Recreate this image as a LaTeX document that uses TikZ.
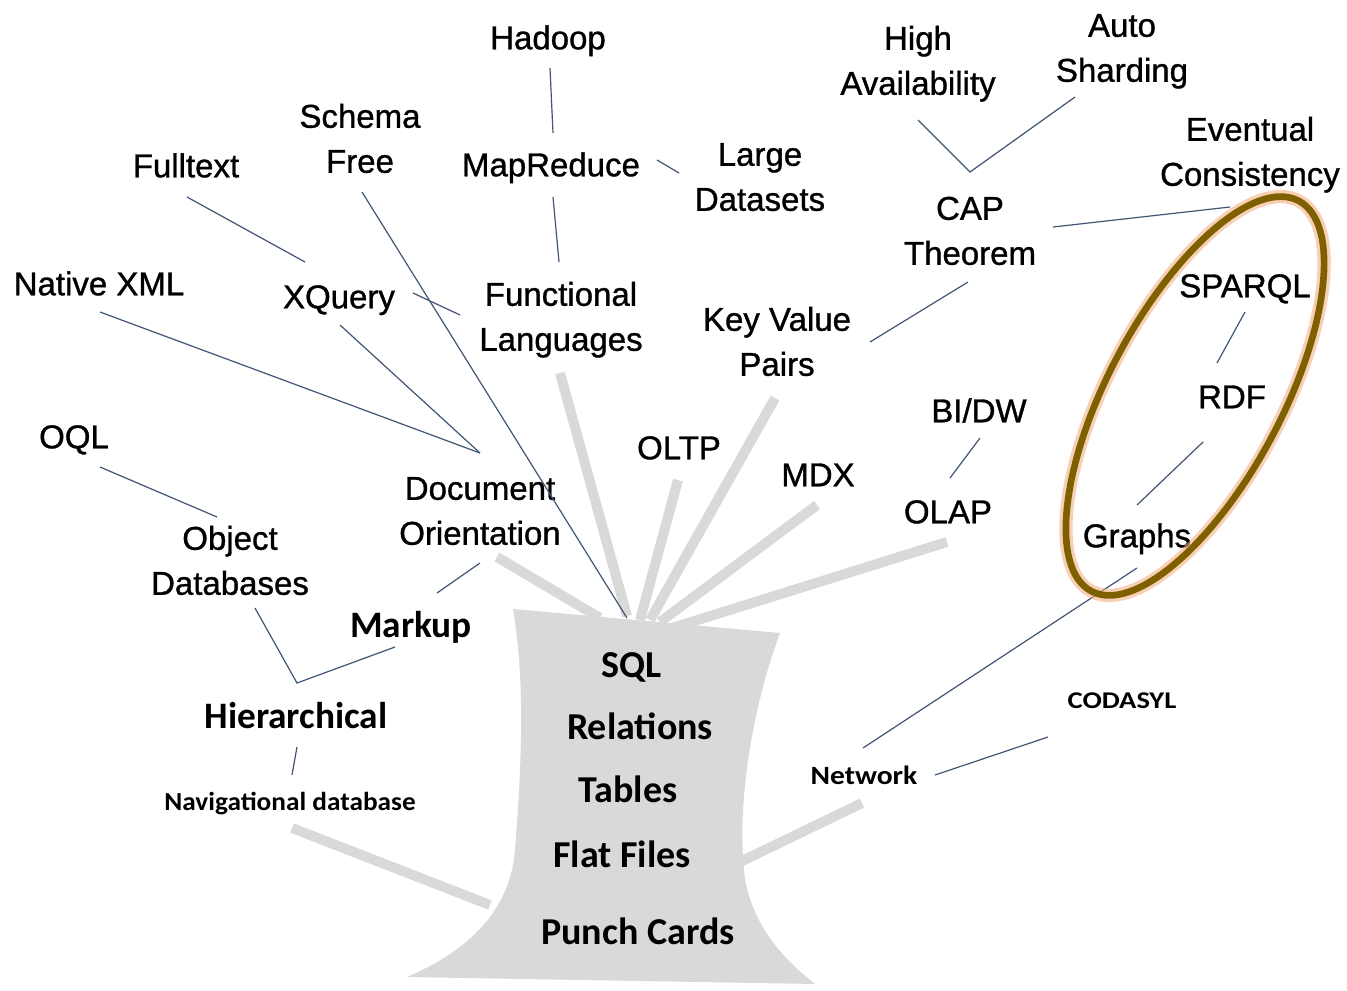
\documentclass[tikz,border=0pt]{standalone}
\usepackage{fontspec}
\usepackage{graphicx}
\setmainfont{Liberation Sans}
\newfontfamily\arialish{Liberation Sans}[FakeBold=1]
\newfontfamily\calibri{Carlito}
\usetikzlibrary{calc}
\definecolor{trunkgray}{RGB}{217,217,217}
\definecolor{linkblue}{RGB}{64,84,115}
\definecolor{ringbrown}{RGB}{127,96,0}
\definecolor{ringglow}{RGB}{244,177,131}
\newcommand{\labstrut}{\rule[-0.25em]{0pt}{1em}}

\begin{document}
\begin{tikzpicture}[x=0.75pt,y=-0.75pt,
  lab/.style={font=\arialish\fontsize{24.75}{33.75}\selectfont, align=center, inner sep=0pt},
  cal/.style={font=\calibri\bfseries\fontsize{28.5}{34}\selectfont, inner sep=0pt},
  link/.style={draw=linkblue, line width=0.9pt},
  branch/.style={draw=trunkgray, line width=7.5pt},
]
\useasboundingbox (0,0) rectangle (1347,990);

% ---- labels (Arial-like) ----
\node[lab] (hadoop)   at (548,41)   {\labstrut Hadoop};
\node[lab] (highav)   at (918,64)   {\labstrut High\\\labstrut Availability};
\node[lab] (auto)     at (1122,51)  {\labstrut Auto\\\labstrut Sharding};
\node[lab] (eventual) at (1250,155) {\labstrut Eventual\\\labstrut Consistency};
\node[lab] (cap)      at (970,234)  {\labstrut CAP\\\labstrut Theorem};
\node[lab] (mapred)   at (551,168)  {\labstrut MapReduce};
\node[lab] (large)    at (760,180)  {\labstrut Large\\\labstrut Datasets};
\node[lab] (schema)   at (360,142)  {\labstrut Schema\\\labstrut Free};
\node[lab] (fulltext) at (186,169)  {\labstrut Fulltext};
\node[lab] (nxml)     at (99,287)   {\labstrut Native XML};
\node[lab] (xquery)   at (339,300)  {\labstrut XQuery};
\node[lab] (func)     at (561,320)  {\labstrut Functional\\\labstrut Languages};
\node[lab] (kv)       at (777,345)  {\labstrut Key Value\\\labstrut Pairs};
\node[lab] (sparql)   at (1245,289) {\labstrut SPARQL};
\node[lab] (rdf)      at (1232,400) {\labstrut RDF};
\node[lab] (bidw)     at (979,414)  {\labstrut BI/DW};
\node[lab] (oql)      at (74,440)   {\labstrut OQL};
\node[lab] (oltp)     at (679,451)  {\labstrut OLTP};
\node[lab] (mdx)      at (818,478)  {\labstrut MDX};
\node[lab] (olap)     at (948,515)  {\labstrut OLAP};
\node[lab] (doc)      at (480,514)  {\labstrut Document\\\labstrut Orientation};
\node[lab] (obj)      at (230,564)  {\labstrut Object\\\labstrut Databases};
\node[lab] (graphs)   at (1137,539) {\labstrut Graphs};

% ---- labels (Calibri-like) ----
\node[cal, font=\calibri\bfseries\fontsize{28}{34}\selectfont] (markup) at (411,628) {\labstrut Markup};
\node[cal, font=\calibri\bfseries\fontsize{28}{34}\selectfont] (hier)   at (296,719) {\labstrut Hierarchical};
\node[cal, font=\calibri\bfseries\fontsize{19.5}{24}\selectfont] (nav)  at (290,804) {\labstrut\scalebox{1.05}[1]{Navigational database}};
\node[cal, font=\calibri\bfseries\fontsize{19.8}{24}\selectfont] (network) at (864,778) {\labstrut\scalebox{1.12}[1]{Network}};
\node[cal, font=\calibri\bfseries\fontsize{18}{22}\selectfont] (codasyl) at (1122,702) {\labstrut\scalebox{1.19}[1]{CODASYL}};

% ---- trunk and its gray branches ----
\coordinate (top) at (632,620);
\draw[branch] ($(doc)+(17,43)$)    -- ($(top)+(-32,-2)$);
\draw[branch] ($(func)+(-1,53)$)   -- ($(top)+(-5,-4)$);
\draw[branch] ($(oltp)+(-1,29)$)   -- ($(top)+(8,0)$);
\draw[branch] ($(kv)+(-2,53)$)     -- ($(top)+(18,0)$);
\draw[branch] ($(mdx)+(-1,27)$)    -- ($(top)+(28,2)$);
\draw[branch] ($(olap)+(-1,27)$)   -- ($(top)+(40,8)$);
\draw[branch] ($(nav)+(2,24)$)     -- (490,905);
\draw[branch] ($(network)+(-2,25)$) -- (738,863);

\fill[trunkgray] (513,609) -- (780,633)
  .. controls (755,700) and (735,800) .. (745,880)
  .. controls (755,930) and (785,960) .. (815,984)
  -- (407,977)
  .. controls (470,950) and (510,910) .. (515,850)
  .. controls (522,760) and (525,680) .. (513,609) -- cycle;

\node[cal] (sql)   at (632,668) {\labstrut SQL};
\node[cal] (rel)   at (640,730) {\labstrut Relations};
\node[cal] (tab)   at (628,793) {\labstrut Tables};
\node[cal] (flat)  at (622,858) {\labstrut Flat Files};
\node[cal] (punch) at (638,935) {\labstrut Punch Cards};

% ---- thin connectors ----
\draw[link] ($(hadoop)+(2,27)$)   -- ($(mapred)+(2,-35)$);
\draw[link] ($(mapred)+(2,29)$)   -- ($(func)+(-2,-58)$);
\draw[link] ($(mapred)+(106,-8)$) -- ($(large)+(-81,-7)$);
\draw[link] ($(schema)+(2,50)$)   -- ($(top)+(-5,-2)$);
\draw[link] ($(xquery)+(74,-7)$)  -- ($(func)+(-101,-5)$);
\draw[link] ($(fulltext)+(1,28)$) -- ($(xquery)+(-34,-38)$);
\draw[link] ($(nxml)+(1,25)$)     -- ($(doc)+(0,-61)$);
\draw[link] ($(xquery)+(1,25)$)   -- ($(doc)+(0,-61)$);
\draw[link] ($(oql)+(26,27)$)     -- ($(obj)+(-13,-47)$);
\draw[link] ($(obj)+(25,44)$) -- ($(hier)+(1,-36)$) -- ($(markup)+(-16,19)$);
\draw[link] ($(markup)+(26,-35)$) -- ($(doc)+(0,49)$);
\draw[link] ($(hier)+(1,28)$)     -- ($(nav)+(2,-29)$);
\draw[link] ($(highav)+(0,56)$) -- ($(cap)+(0,-62)$) -- ($(auto)+(-47,46)$);
\draw[link] ($(cap)+(83,-7)$)     -- ($(eventual)+(-20,52)$);
\draw[link] ($(cap)+(-2,48)$)     -- ($(kv)+(93,-3)$);
\draw[link] ($(bidw)+(1,24)$)     -- ($(olap)+(2,-37)$);
\draw[link] ($(sparql)+(0,23)$)   -- ($(rdf)+(-15,-37)$);
\draw[link] ($(rdf)+(-29,42)$)    -- ($(graphs)+(0,-34)$);
\draw[link] ($(graphs)+(0,29)$)   -- ($(network)+(-1,-30)$);
\draw[link] ($(network)+(71,-3)$) -- ($(codasyl)+(-74,35)$);

% ---- highlight ring round the graph family ----
\coordinate (ring) at (1195,396);
\draw[ringglow, line width=10pt, opacity=0.6, rotate around={62:(ring)}]
  (ring) ellipse [x radius=165.75pt, y radius=65.25pt];
\draw[ringbrown, line width=5pt, rotate around={62:(ring)}]
  (ring) ellipse [x radius=165.75pt, y radius=65.25pt];
\end{tikzpicture}
\end{document}
